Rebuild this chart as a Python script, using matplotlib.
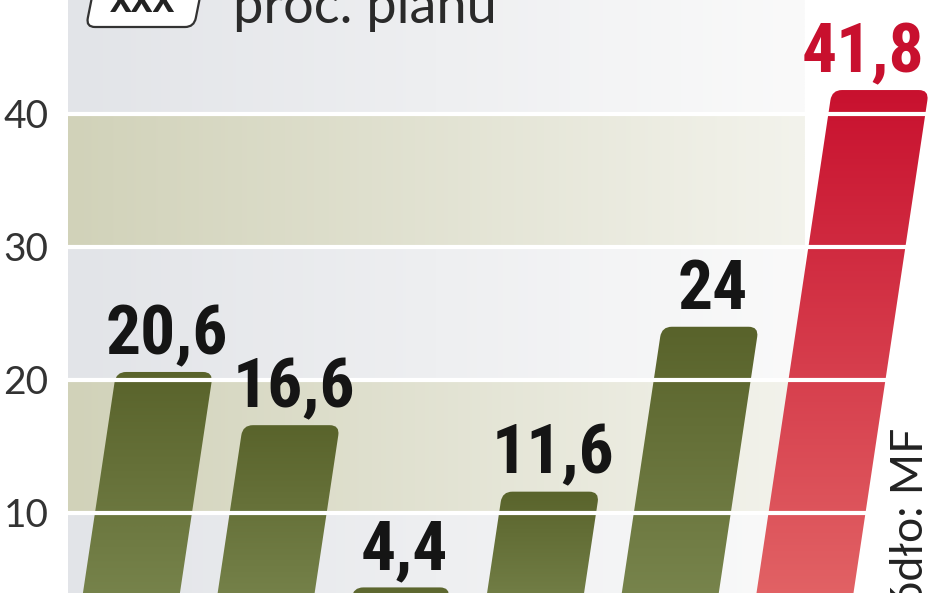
import numpy as np
import matplotlib
matplotlib.use('Agg')
import matplotlib.pyplot as plt
from matplotlib import font_manager
from matplotlib.patches import FancyBboxPatch
from matplotlib.transforms import Affine2D
from matplotlib.colors import to_rgb

# dane (mld zł / proc. planu)
values = [20.6, 16.6, 4.4, 11.6, 24.0, 41.8]
value_labels = ['20,6', '16,6', '4,4', '11,6', '24', '41,8']
highlight = [False, False, False, False, False, True]
yticks = [10, 20, 30, 40]
legend_box_text = 'xxx'
legend_text = 'proc. planu'
source_text = 'Źródło: MF'

W, H, DPI = 948, 593, 100
SLANT = 0.15            # przesunięcie x na piksel wysokości
BAR_W = 0.72
YMIN, YMAX = 3.98, 48.57
XMIN, XMAX = -0.412, 5.059
LABEL_DX = [0, 0, 0, 0, 0, -0.15]   # drobne przesunięcia etykiet

GREEN_TOP, GREEN_BOT = '#58622a', '#7d8a52'
RED_TOP, RED_BOT = '#c8102e', '#e46a6a'
LIGHT_L, LIGHT_R = '#e2e4e8', '#fafafa'
TAN_L, TAN_R = '#d1d2b9', '#f3f3ec'


def pick_font(cands, **kw):
    for c in cands:
        try:
            font_manager.findfont(font_manager.FontProperties(family=c, **kw),
                                  fallback_to_default=False)
            return c
        except ValueError:
            continue
    return 'DejaVu Sans'


BOLD_FONT = pick_font(['Roboto Condensed', 'Liberation Sans Narrow', 'Open Sans Condensed'])
THIN_FONT = pick_font(['Lato', 'Roboto', 'Open Sans', 'DejaVu Sans'])


def vgrad(c_bot, c_top, n=256):
    t = np.linspace(0, 1, n)[:, None, None]
    return (1 - t) * np.array(to_rgb(c_bot)) + t * np.array(to_rgb(c_top))


def hgrad(c_left, c_right, n=256):
    t = np.linspace(0, 1, n)[None, :, None]
    return (1 - t) * np.array(to_rgb(c_left)) + t * np.array(to_rgb(c_right))


fig = plt.figure(figsize=(W / DPI, H / DPI), dpi=DPI)
fig.patch.set_facecolor('white')
ax = fig.add_axes([68 / W, 0, (805 - 68) / W, 1])
ax.set_xlim(XMIN, XMAX)
ax.set_ylim(YMIN, YMAX)
ax.set_autoscale_on(False)
for s in ax.spines.values():
    s.set_visible(False)
ax.set_xticks([])
ax.set_yticks(yticks)
ax.set_yticklabels([str(t) for t in yticks])
ax.tick_params(axis='y', length=0, pad=14, labelsize=28, labelcolor='#333333')
for lab in ax.get_yticklabels():
    lab.set_fontfamily(THIN_FONT)
    lab.set_fontweight('normal')

# tło w pasy
edges = [YMIN] + yticks + [YMAX]
for k in range(len(edges) - 1):
    tan = k % 2 == 1
    img = hgrad(TAN_L, TAN_R) if tan else hgrad(LIGHT_L, LIGHT_R)
    ax.imshow(img, extent=[XMIN, XMAX, edges[k], edges[k + 1]], origin='lower',
              aspect='auto', interpolation='bilinear', zorder=0)

# pochylenie słupków
x0d, y0d = ax.transData.transform((0, 0))
pxx = ax.transData.transform((1, 0))[0] - x0d
pxy = ax.transData.transform((0, 1))[1] - y0d
skew = Affine2D().translate(0, -y0d).skew(np.arctan(SLANT), 0).translate(0, y0d)
bar_trans = ax.transData + skew

for i, v in enumerate(values):
    bot = YMIN - 5
    p = FancyBboxPatch((i - BAR_W / 2, bot), BAR_W, v - bot,
                       boxstyle='round,pad=0,rounding_size=0.075',
                       mutation_aspect=pxx / pxy,
                       fc='none', ec='none', clip_on=False)
    ax.add_patch(p)
    p.set_transform(bar_trans)
    top_c, bot_c = (RED_TOP, RED_BOT) if highlight[i] else (GREEN_TOP, GREEN_BOT)
    im = ax.imshow(vgrad(bot_c, top_c), extent=[i - 0.6, i + 1.4, 0, v + 0.5],
                   origin='lower', aspect='auto', interpolation='bilinear', zorder=2)
    im.set_clip_path(p)
    im.set_clip_box(fig.bbox)

    ax.text(i + LABEL_DX[i], v + 1.35, value_labels[i], transform=bar_trans, ha='center',
            va='baseline', fontsize=50, fontweight='bold', fontfamily=BOLD_FONT,
            color='#c8102e' if highlight[i] else '#151515', zorder=4, clip_on=False)

# białe linie siatki
for t in yticks:
    ax.axhline(t, xmin=0, xmax=(W - 68) / (805 - 68), color='white', lw=3,
               zorder=3, clip_on=False)

# legenda u góry
box = FancyBboxPatch((86, H - 27), 108, 60, boxstyle='round,pad=0,rounding_size=9',
                     fc='white', ec='#333333', lw=1.6)
box.set_transform(Affine2D().translate(0, -(H - 27)).skew(np.arctan(0.2), 0)
                  .translate(0, H - 27) + Affine2D().scale(1 / W, 1 / H) + fig.transFigure)
fig.add_artist(box)
fig.text(142 / W, 1 - 12 / H, legend_box_text, ha='center', va='baseline',
         fontsize=30, fontfamily=THIN_FONT, fontweight='bold', color='#222222')
fig.text(233 / W, 1 - 23 / H, legend_text, ha='left', va='baseline',
         fontsize=39, fontfamily=THIN_FONT, fontweight='normal', color='#2a2a2a')

# źródło
fig.text(910 / W, 1 - 428 / H, source_text, rotation=90, ha='center', va='top',
         fontsize=32, fontfamily=THIN_FONT, fontweight='normal', color='#222222')

fig.savefig('out.png', dpi=DPI, facecolor='white')
